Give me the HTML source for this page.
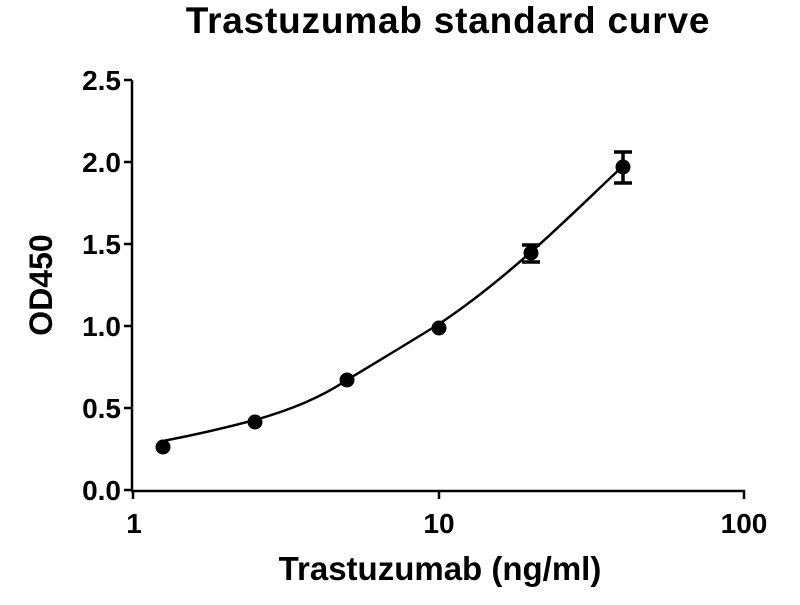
<!DOCTYPE html>
<html><head><style>body{margin:0;background:#fff}</style></head><body>
<svg width="800" height="600" viewBox="0 0 800 600" xmlns="http://www.w3.org/2000/svg" font-family="Liberation Sans, Arial, sans-serif" font-weight="bold">
<text x="448" y="33" font-size="37" text-anchor="middle" letter-spacing="0.8">Trastuzumab standard curve</text>
<g stroke="#000" stroke-width="2.5" fill="none">
<line x1="132" y1="80" x2="132" y2="491"/>
<line x1="131" y1="491" x2="745" y2="491"/>
<line x1="124" y1="80" x2="132" y2="80"/>
<line x1="124" y1="162" x2="132" y2="162"/>
<line x1="124" y1="244" x2="132" y2="244"/>
<line x1="124" y1="326" x2="132" y2="326"/>
<line x1="124" y1="408" x2="132" y2="408"/>
<line x1="124" y1="490" x2="132" y2="490"/>
<line x1="133" y1="490" x2="133" y2="499"/>
<line x1="439" y1="490" x2="439" y2="499"/>
<line x1="744" y1="490" x2="744" y2="499"/>
</g>
<g font-size="28" text-anchor="end">
<text x="121" y="90">2.5</text>
<text x="121" y="172">2.0</text>
<text x="121" y="254">1.5</text>
<text x="121" y="336">1.0</text>
<text x="121" y="418">0.5</text>
<text x="121" y="500">0.0</text>
</g>
<g font-size="28" text-anchor="middle">
<text x="134" y="533">1</text>
<text x="439" y="533">10</text>
<text x="744" y="533">100</text>
</g>
<text x="440" y="580" font-size="33" text-anchor="middle">Trastuzumab (ng/ml)</text>
<text transform="translate(52,285) rotate(-90)" font-size="32" text-anchor="middle">OD450</text>
<path d="M163,441 C200,434 225,428 255,420 C290,410 320,398 347,380 C380,360 410,342 439,324 C475,300 505,275 531,252 C565,222 595,192 623,166" stroke="#000" stroke-width="2.5" fill="none"/>
<g fill="#000">
<circle cx="163" cy="447" r="7.5"/>
<circle cx="255" cy="422" r="7.5"/>
<circle cx="347" cy="380" r="7.5"/>
<circle cx="439" cy="328" r="7.5"/>
<circle cx="531" cy="253" r="7.5"/>
<circle cx="623" cy="167" r="7.5"/>
</g>
<g stroke="#000" stroke-width="3.5">
<line x1="531" y1="245" x2="531" y2="262"/>
<line x1="522" y1="245" x2="540" y2="245"/>
<line x1="522" y1="262" x2="540" y2="262"/>
<line x1="623" y1="152" x2="623" y2="183"/>
<line x1="614" y1="152" x2="632" y2="152"/>
<line x1="614" y1="183" x2="632" y2="183"/>
</g>
</svg>
</body></html>
